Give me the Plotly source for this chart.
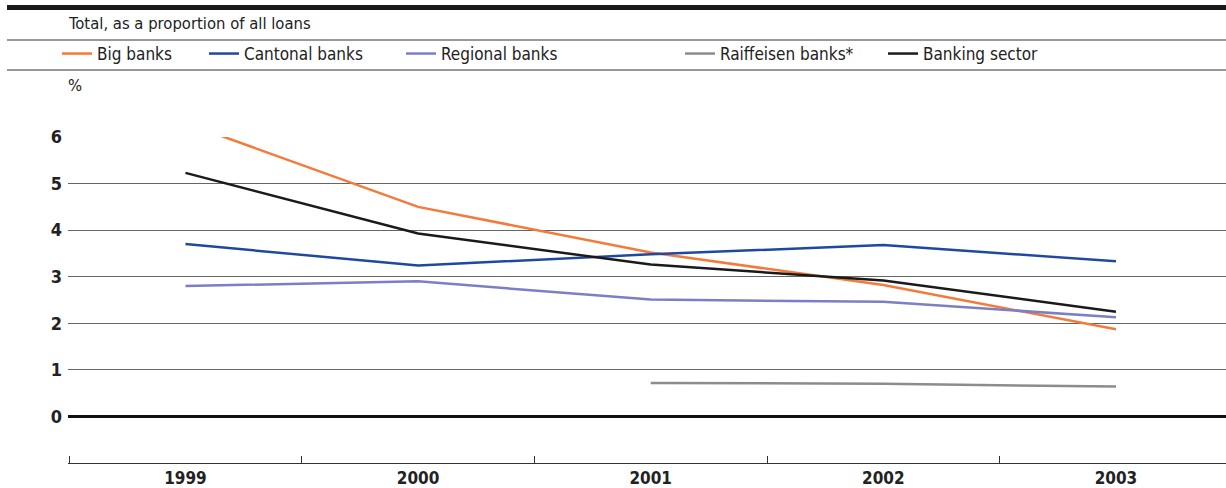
import plotly.graph_objects as go

years = ["1999", "2000", "2001", "2002", "2003"]
big_banks = [6.3, 4.50, 3.52, 2.82, 1.87]
cantonal_banks = [3.70, 3.24, 3.48, 3.68, 3.33]
regional_banks = [2.80, 2.90, 2.51, 2.46, 2.13]
raiffeisen_banks = [None, None, 0.72, 0.70, 0.64]
banking_sector = [5.23, 3.93, 3.26, 2.92, 2.25]

series = [
    ("Big banks", big_banks, "#F47A3A", "legend"),
    ("Cantonal banks", cantonal_banks, "#1F48A0", "legend2"),
    ("Regional banks", regional_banks, "#7A7FC6", "legend3"),
    ("Raiffeisen banks*", raiffeisen_banks, "#8C8C8C", "legend4"),
    ("Banking sector", banking_sector, "#1A1A1A", "legend5"),
]

FONT = "DejaVu Sans Condensed, Liberation Sans, sans-serif"
TXT = "#222222"

W, H = 1226, 488
ML, MR, MT, MB = 68, 0, 137, 25
PW = W - ML - MR
PH = H - MT - MB


def px_x(px):
    return (px - ML) / PW


def px_y(py):
    return (H - MB - py) / PH


xpos = list(range(len(years)))
fig = go.Figure()
for name, vals, color, leg in series:
    fig.add_trace(go.Scatter(
        x=xpos, y=vals, mode="lines", name=name,
        line=dict(color=color, width=2.5),
        legend=leg, connectgaps=False,
    ))

leg_lefts = [57, 204, 401, 680, 883]
leg_common = dict(orientation="h", yanchor="middle", xanchor="left",
                  font=dict(family=FONT, size=17, color=TXT),
                  bgcolor="rgba(0,0,0,0)", borderwidth=0)
legends = {}
for i, lx in enumerate(leg_lefts):
    key = "legend" if i == 0 else f"legend{i+1}"
    legends[key] = dict(x=px_x(lx), y=px_y(54), **leg_common)

fig.update_layout(
    width=W, height=H,
    margin=dict(l=ML, r=MR, t=MT, b=MB),
    paper_bgcolor="white", plot_bgcolor="white",
    showlegend=True,
    **legends,
    xaxis=dict(
        range=[-0.505, 4.473],
        tickmode="array", tickvals=xpos, ticktext=years,
        ticks="", showgrid=False, zeroline=False,
        showline=True, linecolor="#333333", linewidth=1,
        tickfont=dict(family=FONT, size=17, color=TXT, weight="bold"),
        minor=dict(tickmode="array", tickvals=[-0.5, 0.5, 1.5, 2.5, 3.5],
                   ticks="inside", ticklen=7, tickwidth=1, tickcolor="#333333",
                   showgrid=False),
    ),
    yaxis=dict(
        range=[-1, 6],
        tickmode="array", tickvals=[0, 1, 2, 3, 4, 5, 6],
        ticks="", showgrid=True, gridcolor="#666666", gridwidth=1.3,
        zeroline=True, zerolinecolor="#111111", zerolinewidth=3,
        showline=False,
        tickfont=dict(family=FONT, size=18, color=TXT, weight="bold"),
        ticklabelstandoff=5,
    ),
    shapes=[
        dict(type="line", xref="paper", yref="paper", x0=px_x(7), x1=1,
             y0=px_y(7.5), y1=px_y(7.5), line=dict(color="#1a1a1a", width=5)),
        dict(type="line", xref="paper", yref="paper", x0=px_x(7), x1=1,
             y0=px_y(40), y1=px_y(40), line=dict(color="#333333", width=1)),
        dict(type="line", xref="paper", yref="paper", x0=px_x(7), x1=1,
             y0=px_y(70), y1=px_y(70), line=dict(color="#333333", width=1)),
    ],
    annotations=[
        dict(text="Total, as a proportion of all loans", xref="paper", yref="paper",
             x=0, y=px_y(23), xanchor="left", yanchor="middle", showarrow=False,
             xshift=-2, font=dict(family=FONT, size=16.5, color=TXT)),
        dict(text="%", xref="paper", yref="paper",
             x=0, y=px_y(85), xanchor="left", yanchor="middle", showarrow=False,
             xshift=-2, font=dict(family=FONT, size=16.5, color=TXT)),
    ],
)

fig.write_html("out.html")
